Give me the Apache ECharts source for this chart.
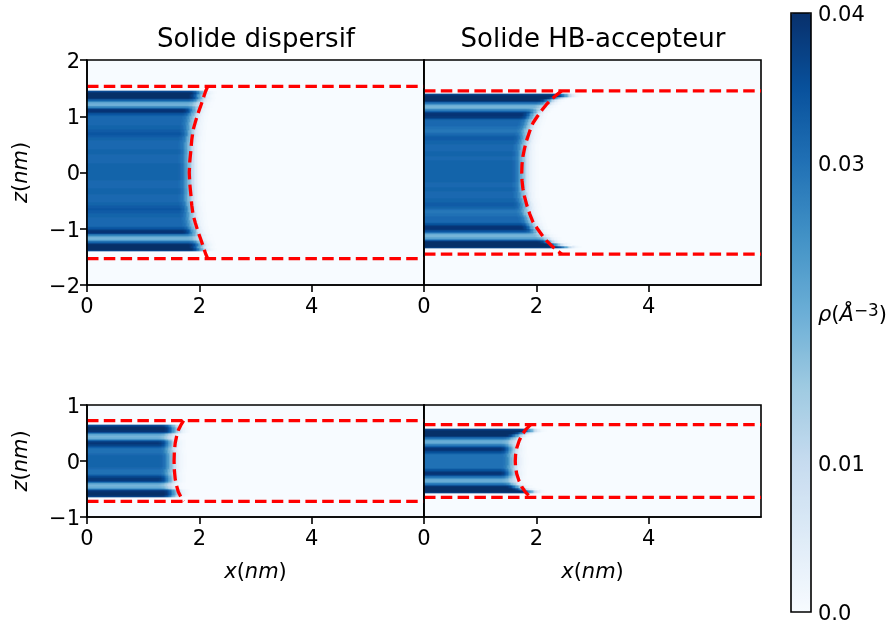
<!DOCTYPE html>
<html><head><meta charset="utf-8">
<style>html,body{margin:0;padding:0;background:#fff}#c{width:892px;height:630px}</style>
<script src="https://cdn.jsdelivr.net/npm/echarts@6/dist/echarts.min.js"></script>
</head><body><div id="c"></div>
<script>
const titles = ['Solide dispersif', 'Solide HB-accepteur'];
const xTicks = [0, 2, 4];
const zTicksTop = [-2, -1, 0, 1, 2];
const zTicksBottom = [-1, 0, 1];
const colourbarTicks = [0, 0.01, 0.02, 0.03, 0.04];
const blues = ['#f7fbff','#deebf7','#c6dbef','#9ecae1','#6baed6','#4292c6','#2171b5','#08519c','#08306b'];

// density per 0.025 nm z slab, from the wall inwards to the centre
const rhoTL = [.036,.040,.040,.040,.040,.038,.032,.025,.020,.019,.020,.027,.036,.039,.039,.037,.034,.032,.031,.031,.031,.031,.031,.031,.032,.032,.032,.033,.033,.034,.034,.033,.033,.032,.032,.031,.031,.031,.031,.031,.031,.032,.032,.032,.032,.031,.031,.031,.031,.031,.031,.032,.032,.032,.032,.032,.032];
const rhoTR = [.037,.040,.040,.040,.040,.036,.029,.022,.019,.019,.022,.028,.034,.038,.039,.039,.038,.035,.032,.031,.031,.031,.031,.030,.030,.029,.029,.030,.031,.032,.033,.033,.033,.032,.032,.032,.031,.031,.031,.031,.031,.032,.032,.032,.031,.031,.031,.032,.032,.032,.032,.032,.032,.032,.032];
const rhoBL = [.036,.039,.040,.040,.039,.033,.025,.020,.018,.020,.027,.034,.038,.039,.037,.034,.032,.030,.030,.030,.031,.031,.032,.032,.032,.032];
const rhoBR = [.037,.040,.040,.040,.040,.037,.030,.024,.020,.020,.023,.029,.034,.038,.039,.038,.035,.032,.030,.030,.030,.030,.030];
// middle of the fading meniscus per 0.05 nm of z, from the wall inwards
const edgeTL = [2.05,2.02,2.03,2.02,2.00,1.98,1.93,1.92,1.91,1.90,1.89,1.88,1.87,1.87,1.86,1.86,1.85,1.85,1.84,1.84,1.84,1.84,1.84,1.84,1.84,1.84,1.84,1.84,1.84];
const edgeTR = [2.55,2.38,2.25,2.20,2.13,2.05,2.00,1.95,1.93,1.91,1.89,1.87,1.85,1.84,1.83,1.82,1.81,1.80,1.79,1.79,1.78,1.78,1.78,1.78,1.78,1.78,1.78,1.78];
const edgeBL = [1.55,1.58,1.58,1.50,1.48,1.50,1.50,1.50,1.50,1.51,1.52,1.52,1.52];
const edgeBR = [1.92,1.78,1.68,1.62,1.60,1.58,1.58,1.58,1.58,1.59,1.60,1.60];
// share of the density kept across the meniscus, per 0.025 nm from its middle
const fadeFirstStep = -8;
const fadeShare = [.99,.97,.94,.9,.83,.75,.63,.56,.5,.39,.28,.2,.13,.09,.06,.04,.025,.015,.01];

// wall positions (nm)
const wallTL = 1.53, wallTR = 1.45, wallBL = 0.72, wallBR = 0.65;
// dashed meniscus, upper half from wall to centre
const arcXTL = [2.15,2.11,2.08,2.03,1.98,1.93,1.89,1.865,1.85,1.83,1.82];
const arcZTL = [1.53,1.44,1.35,1.20,1.06,.90,.76,.58,.40,.20,0];
const arcXTR = [2.45,2.36,2.27,2.18,2.10,2.02,1.94,1.88,1.83,1.79,1.76,1.745,1.74];
const arcZTR = [1.45,1.38,1.30,1.21,1.11,1.00,.88,.73,.58,.43,.28,.14,0];
const arcXBL = [1.72,1.67,1.625,1.595,1.57,1.555,1.55];
const arcZBL = [.72,.64,.55,.44,.32,.16,0];
const arcXBR = [1.90,1.81,1.74,1.69,1.65,1.63,1.625];
const arcZBR = [.65,.56,.46,.35,.227,.11,0];

// ---- build ----
const F = 'DejaVu Sans', FS = 21, LW = 1.6, slab = 0.025, W = 337;
const panels = [
 {left:87, top:60, h:225, zm:2, rho:rhoTL, edge:edgeTL, centre:.025, wall:wallTL, ax:arcXTL, az:arcZTL, zt:zTicksTop, yl:true, xl:false},
 {left:424,top:60, h:225, zm:2, rho:rhoTR, edge:edgeTR, centre:.025, wall:wallTR, ax:arcXTR, az:arcZTR, zt:zTicksTop, yl:false, xl:false},
 {left:87, top:405,h:112, zm:1, rho:rhoBL, edge:edgeBL, centre:0, wall:wallBL, ax:arcXBL, az:arcZBL, zt:zTicksBottom, yl:true, xl:true},
 {left:424,top:405,h:112, zm:1, rho:rhoBR, edge:edgeBR, centre:0, wall:wallBR, ax:arcXBR, az:arcZBR, zt:zTicksBottom, yl:false, xl:true}
];
const mathRich = {
  i:{fontFamily:F,fontStyle:'italic',fontSize:FS,color:'#000'},
  n:{fontFamily:F,fontSize:FS,color:'#000'}
};
const grid=[],xAxis=[],yAxis=[],series=[];
// one heatmap cell per screen pixel keeps the cells seamless
const xCats = Array.from({length:W},(_,i)=>((i+.5)*6/W).toFixed(4));
panels.forEach((p,g)=>{
  grid.push({left:p.left,top:p.top,width:W,height:p.h,show:true,backgroundColor:'#f7fbff',borderColor:'#000',borderWidth:LW,z:0});
  const zCats = Array.from({length:p.h},(_,i)=>(-p.zm+(i+.5)*2*p.zm/p.h).toFixed(4));
  const base = xAxis.length;
  xAxis.push({type:'category',gridIndex:g,show:false,data:xCats});
  xAxis.push({type:'value',gridIndex:g,min:0,max:6,position:'bottom',splitLine:{show:false},z:5,
    axisLine:{show:true,onZero:false,lineStyle:{color:'#000',width:LW}},
    axisTick:{show:true,length:7,lineStyle:{color:'#000',width:LW},customValues:xTicks},
    axisLabel:{show:true,fontFamily:F,fontSize:FS,color:'#000',margin:12,customValues:xTicks,hideOverlap:false},
    name:p.xl?'{i|x}{n|(}{i|nm}{n|)}':'',nameLocation:'middle',nameGap:45,nameTextStyle:{rich:mathRich}});
  yAxis.push({type:'category',gridIndex:g,show:false,data:zCats});
  yAxis.push({type:'value',gridIndex:g,min:-p.zm,max:p.zm,position:'left',splitLine:{show:false},z:5,
    axisLine:{show:true,onZero:false,lineStyle:{color:'#000',width:LW}},
    axisTick:{show:p.yl,length:7,lineStyle:{color:'#000',width:LW},customValues:p.zt},
    axisLabel:{show:p.yl,fontFamily:F,fontSize:FS,color:'#000',margin:7,padding:[5,0,0,0],rich:mathRich,customValues:p.zt,
      formatter:v=>String(v).replace('-','\u2212')},
    name:p.yl?'{i|z}{n|(}{i|nm}{n|)}':'',nameLocation:'middle',nameGap:55,nameRotate:90,nameTextStyle:{rich:mathRich}});
  const cells = [];
  const n = p.rho.length;
  zCats.forEach((zc,zi)=>{
    const fromCentre = Math.floor(Math.abs(+zc-p.centre)/slab);
    if(fromCentre>=n) return;
    const i = n-1-fromCentre;              // slab index counted from the wall
    const r = p.rho[i], e = p.edge[Math.min(i>>1,p.edge.length-1)];
    xCats.forEach((xc,xi)=>{
      const s = Math.round((+xc-e)/slab)-fadeFirstStep;
      const k = s<0?1:s>=fadeShare.length?0:fadeShare[s];
      if(k>0) cells.push([xi,zi,r*k]);
    });
  });
  series.push({type:'heatmap',xAxisIndex:base,yAxisIndex:base,data:cells,progressive:0,animation:false,
    emphasis:{disabled:true},itemStyle:{borderWidth:0},z:2});
  const red = {color:'#ff0000',width:3.3,type:[11.5,5.3]};
  const line = d=>({type:'line',xAxisIndex:base+1,yAxisIndex:base+1,data:d,showSymbol:false,symbol:'none',
    lineStyle:red,animation:false,clip:true,z:3,silent:true});
  series.push(line([[0,p.wall],[6,p.wall]]));
  series.push(line([[0,-p.wall],[6,-p.wall]]));
  const arc = p.ax.map((x,i)=>[x,p.az[i]]);
  series.push(line(arc.concat(arc.slice(0,-1).reverse().map(([x,z])=>[x,-z]))));
});
// colourbar frame and labels
grid.push({left:791,top:13,width:20,height:599,show:true,backgroundColor:'transparent',borderColor:'#000',borderWidth:LW,z:6});
const cbLabel = {0:'0.0',0.01:'0.01',0.02:'{i|\u03c1}{n|(}{i|\u00c5}{s|\u22123}{n|)}',0.03:'0.03',0.04:'0.04'};
xAxis.push({type:'value',gridIndex:4,show:false,min:0,max:1});
yAxis.push({type:'value',gridIndex:4,min:0,max:0.04,position:'right',splitLine:{show:false},z:6,
  axisLine:{show:false},axisTick:{show:false},
  axisLabel:{show:true,fontFamily:F,fontSize:FS,color:'#000',margin:7,padding:[6,0,0,0],customValues:colourbarTicks,hideOverlap:false,
    formatter:v=>cbLabel[v],
    rich:{i:{fontFamily:F,fontStyle:'italic',fontSize:FS,color:'#000'},n:{fontFamily:F,fontSize:FS,color:'#000'},
          s:{fontFamily:F,fontSize:FS*.8,color:'#000',verticalAlign:'top',padding:[0,0,8,0]}}}});

const chart = echarts.init(document.getElementById('c'),null,{renderer:'canvas'});
chart.setOption({
  animation:false,backgroundColor:'#fff',
  title:[
    {text:titles[0],left:251,top:22,textAlign:'center',textStyle:{fontFamily:F,fontSize:26,fontWeight:'normal',color:'#000'}},
    {text:titles[1],left:588,top:22,textAlign:'center',textStyle:{fontFamily:F,fontSize:26,fontWeight:'normal',color:'#000'}}
  ],
  grid,xAxis,yAxis,series,
  visualMap:{type:'continuous',min:0,max:0.04,dimension:2,seriesIndex:[0,4,8,12],left:791,top:13,itemWidth:20,itemHeight:599,
    padding:0,calculable:false,realtime:false,hoverLink:false,text:null,showLabel:false,orient:'vertical',
    inRange:{color:blues},textStyle:{color:'transparent',fontSize:1},formatter:()=>''}
});
</script></body></html>
